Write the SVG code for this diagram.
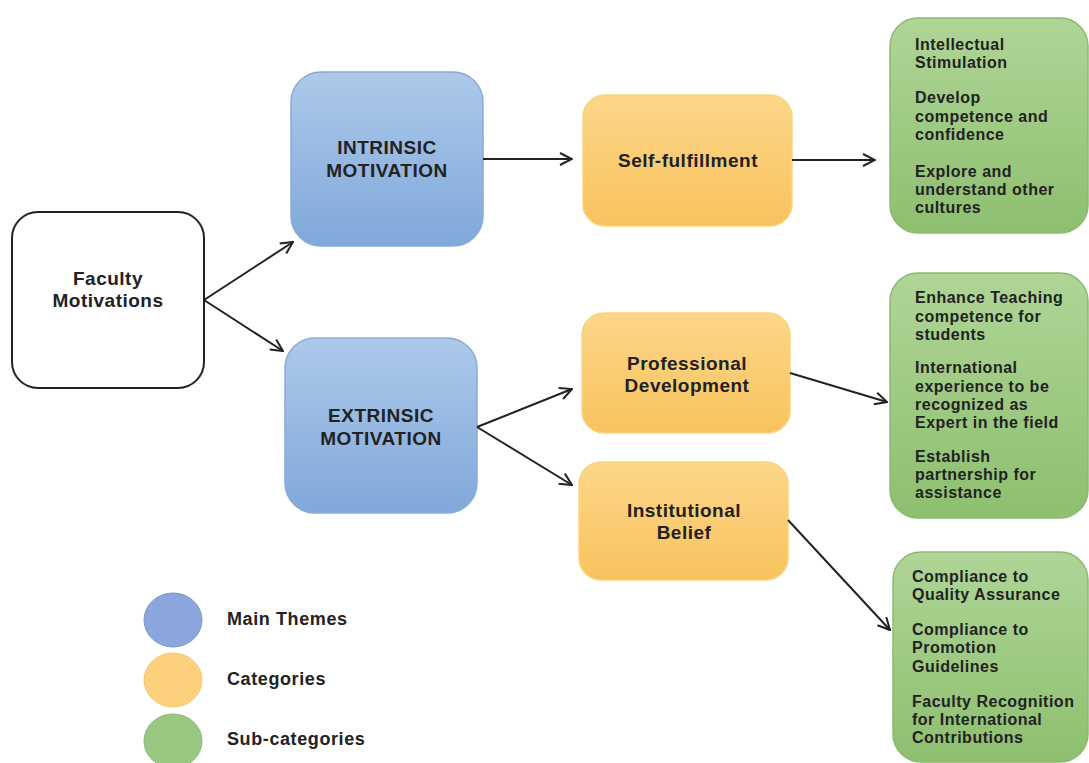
<svg xmlns="http://www.w3.org/2000/svg" width="1089" height="763" viewBox="0 0 1089 763">
<defs>
<linearGradient id="gb" x1="0" y1="0" x2="0" y2="1"><stop offset="0" stop-color="#adc9ea"/><stop offset="1" stop-color="#80a8da"/></linearGradient>
<linearGradient id="go" x1="0" y1="0" x2="0" y2="1"><stop offset="0" stop-color="#fdd68a"/><stop offset="1" stop-color="#f8c35d"/></linearGradient>
<linearGradient id="gg" x1="0" y1="0" x2="0" y2="1"><stop offset="0" stop-color="#afd597"/><stop offset="1" stop-color="#8ebf6f"/></linearGradient>
<marker id="ah" viewBox="0 0 14 14" refX="13" refY="7" markerWidth="14" markerHeight="14" markerUnits="userSpaceOnUse" orient="auto">
<path d="M1,1 L13,7 L1,13" fill="none" stroke="#222" stroke-width="2"/>
</marker>
<style>
.t{font-family:"Liberation Sans",Arial,sans-serif;font-weight:bold;fill:#222;}
.m{font-size:19px;letter-spacing:0.5px;text-anchor:middle;}
.s{font-size:16px;letter-spacing:0.5px;}
.l{font-size:18px;letter-spacing:0.6px;}
.blue{fill:url(#gb);stroke:#8aaad4;stroke-width:1.5;}
.org{fill:url(#go);stroke:#f6d57e;stroke-width:1.5;}
.grn{fill:url(#gg);stroke:#8db96f;stroke-width:1.5;}
.c{fill:none;stroke:#222;stroke-width:2;marker-end:url(#ah);}
</style>
</defs>
<rect width="1089" height="763" fill="#fff"/>
<g id="faculty">
<rect x="12" y="212" width="192" height="176" rx="26" fill="#fff" stroke="#222" stroke-width="2"/>
<text class="t m" x="108" y="285">Faculty</text>
<text class="t m" x="108" y="307">Motivations</text>
</g>
<g id="intrinsic">
<rect class="blue" x="291" y="72" width="192" height="174" rx="30"/>
<text class="t m" x="387" y="154">INTRINSIC</text>
<text class="t m" x="387" y="177">MOTIVATION</text>
</g>
<g id="extrinsic">
<rect class="blue" x="285" y="338" width="192" height="175" rx="30"/>
<text class="t m" x="381" y="422">EXTRINSIC</text>
<text class="t m" x="381" y="445">MOTIVATION</text>
</g>
<g id="self">
<rect class="org" x="583" y="95" width="209" height="131" rx="22"/>
<text class="t m" x="688" y="167">Self-fulfillment</text>
</g>
<g id="professional">
<rect class="org" x="582" y="313" width="208" height="120" rx="22"/>
<text class="t m" x="687" y="370">Professional</text>
<text class="t m" x="687" y="392">Development</text>
</g>
<g id="institutional">
<rect class="org" x="579" y="462" width="209" height="118" rx="22"/>
<text class="t m" x="684" y="517">Institutional</text>
<text class="t m" x="684" y="539">Belief</text>
</g>
<g id="sub1">
<rect class="grn" x="890" y="18" width="198" height="215" rx="28"/>
<text class="t s" x="915" y="50">Intellectual</text>
<text class="t s" x="915" y="68">Stimulation</text>
<text class="t s" x="915" y="103">Develop</text>
<text class="t s" x="915" y="122">competence and</text>
<text class="t s" x="915" y="140">confidence</text>
<text class="t s" x="915" y="177">Explore and</text>
<text class="t s" x="915" y="195">understand other</text>
<text class="t s" x="915" y="213">cultures</text>
</g>
<g id="sub2">
<rect class="grn" x="890" y="273" width="198" height="245" rx="28"/>
<text class="t s" x="915" y="303">Enhance Teaching</text>
<text class="t s" x="915" y="322">competence for</text>
<text class="t s" x="915" y="340">students</text>
<text class="t s" x="915" y="373">International</text>
<text class="t s" x="915" y="392">experience to be</text>
<text class="t s" x="915" y="410">recognized as</text>
<text class="t s" x="915" y="428">Expert in the field</text>
<text class="t s" x="915" y="462">Establish</text>
<text class="t s" x="915" y="480">partnership for</text>
<text class="t s" x="915" y="498">assistance</text>
</g>
<g id="sub3">
<rect class="grn" x="893" y="552" width="195" height="210" rx="28"/>
<text class="t s" x="912" y="582">Compliance to</text>
<text class="t s" x="912" y="600">Quality Assurance</text>
<text class="t s" x="912" y="635">Compliance to</text>
<text class="t s" x="912" y="653">Promotion</text>
<text class="t s" x="912" y="672">Guidelines</text>
<text class="t s" x="912" y="707">Faculty Recognition</text>
<text class="t s" x="912" y="725">for International</text>
<text class="t s" x="912" y="743">Contributions</text>
</g>
<g id="connectors">
<line class="c" x1="204" y1="300" x2="293" y2="242"/>
<line class="c" x1="204" y1="300" x2="283" y2="351"/>
<line class="c" x1="483" y1="159" x2="572" y2="159"/>
<line class="c" x1="792" y1="160" x2="875" y2="160"/>
<line class="c" x1="477" y1="427" x2="572" y2="389"/>
<line class="c" x1="477" y1="427" x2="572" y2="485"/>
<line class="c" x1="790" y1="373" x2="887" y2="402"/>
<line class="c" x1="788" y1="520" x2="890" y2="630"/>
</g>
<g id="legend">
<ellipse cx="173" cy="620" rx="29" ry="27" fill="#8aa6dc" stroke="#7d98cc" stroke-width="1"/>
<ellipse cx="173" cy="680" rx="29" ry="27" fill="#fcd07c" stroke="#f5c870" stroke-width="1"/>
<ellipse cx="173" cy="741" rx="29" ry="27" fill="#99c883" stroke="#86b870" stroke-width="1"/>
<text class="t l" x="227" y="625">Main Themes</text>
<text class="t l" x="227" y="685">Categories</text>
<text class="t l" x="227" y="745">Sub-categories</text>
</g>
</svg>
